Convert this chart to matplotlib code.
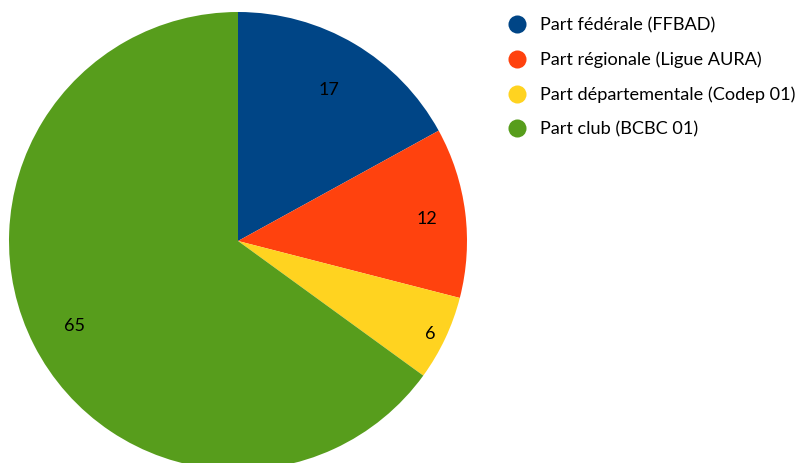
import numpy as np
import matplotlib
matplotlib.use("Agg")
import matplotlib.pyplot as plt
from matplotlib.lines import Line2D

plt.rcParams['font.family'] = ['Lato', 'DejaVu Sans']

labels = ['Part fédérale (FFBAD)', 'Part régionale (Ligue AURA)',
          'Part départementale (Codep 01)', 'Part club (BCBC 01)']
values = [17, 12, 6, 65]
colors = ['#004586', '#ff420e', '#ffd320', '#579d1c']
label_dist = [0.78, 0.83, 0.93, 0.80]

W, H = 798, 463
cx, cy, R = 238, 222, 229  # centre from bottom-left, radius, in px

fig = plt.figure(figsize=(W / 100, H / 100), dpi=100)
ax = fig.add_axes([0, 0, 1, 1])
wedges, _ = ax.pie(values, colors=colors, startangle=90, counterclock=False,
                   radius=1, wedgeprops=dict(linewidth=0))
ax.set_xlim(-cx / R, (W - cx) / R)
ax.set_ylim(-cy / R, (H - cy) / R)
ax.set_aspect('equal')
ax.axis('off')

for w, v, d in zip(wedges, values, label_dist):
    ang = np.deg2rad((w.theta1 + w.theta2) / 2)
    ax.text(d * np.cos(ang), d * np.sin(ang) - 0.01, str(v), ha='center', va='center',
            fontsize=13, color='black')

handles = [Line2D([], [], marker='o', linestyle='', markersize=13,
                  markerfacecolor=c, markeredgewidth=0) for c in colors]
ax.legend(handles, labels, loc='upper left', bbox_to_anchor=(499 / W, 1 - 10 / H),
          frameon=False, fontsize=13.1, handletextpad=0.65, labelspacing=1.0,
          borderaxespad=0, handlelength=1.2)

fig.savefig('out.png', dpi=100)
